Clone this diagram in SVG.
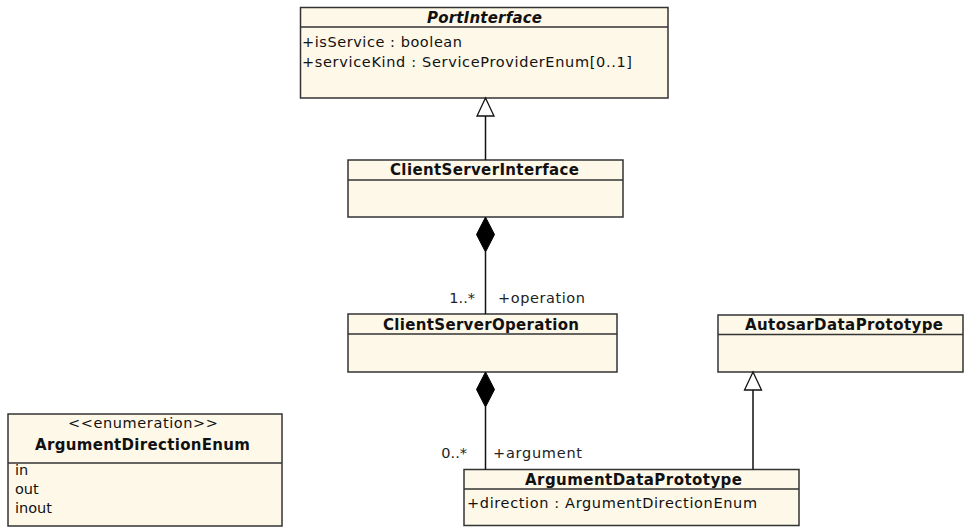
<svg xmlns="http://www.w3.org/2000/svg" width="964" height="528" viewBox="0 0 964 528">
  <style>
    .box { fill: #fef8e9; stroke: #333333; stroke-width: 1.5; }
    .sep { stroke: #333333; stroke-width: 1.5; }
    .name { font-family: "DejaVu Sans", sans-serif; font-size: 15px; font-weight: bold; fill: #111111; text-anchor: middle; }
    .abstract { font-style: italic; }
    .attr { font-family: "DejaVu Sans", sans-serif; font-size: 14.5px; fill: #111111; }
    .stereo { font-family: "DejaVu Sans", sans-serif; font-size: 14.5px; fill: #111111; text-anchor: middle; }
    .edge { stroke: #111111; stroke-width: 1.5; fill: none; }
    .hollow { fill: #ffffff; stroke: #111111; stroke-width: 1.3; }
    .filled { fill: #000000; stroke: #000000; stroke-width: 1; }
    .role { font-family: "DejaVu Sans", sans-serif; font-size: 14.5px; fill: #222222; }
  </style>

  <!-- classes -->
  <g id="PortInterface">
    <rect class="box" x="300.5" y="7.5" width="367.5" height="90.5"/>
    <line class="sep" x1="300.5" y1="27" x2="668" y2="27"/>
    <text class="name abstract" x="484.5" y="22.5" textLength="115">PortInterface</text>
    <text class="attr" x="302" y="47" textLength="160">+isService : boolean</text>
    <text class="attr" x="302" y="67" textLength="330">+serviceKind : ServiceProviderEnum[0..1]</text>
  </g>

  <g id="ClientServerInterface">
    <rect class="box" x="348" y="160" width="275" height="57"/>
    <line class="sep" x1="348" y1="180" x2="623" y2="180"/>
    <text class="name" x="484.5" y="175" textLength="189">ClientServerInterface</text>
  </g>

  <g id="ClientServerOperation">
    <rect class="box" x="348" y="314" width="269" height="58"/>
    <line class="sep" x1="348" y1="334" x2="617" y2="334"/>
    <text class="name" x="481" y="329.5" textLength="196">ClientServerOperation</text>
  </g>

  <g id="AutosarDataPrototype">
    <rect class="box" x="718" y="315" width="245" height="57"/>
    <line class="sep" x1="718" y1="334.5" x2="963" y2="334.5"/>
    <text class="name" x="844" y="330" textLength="198">AutosarDataPrototype</text>
  </g>

  <g id="ArgumentDataPrototype">
    <rect class="box" x="464" y="469.5" width="335" height="56"/>
    <line class="sep" x1="464" y1="489" x2="799" y2="489"/>
    <text class="name" x="633.5" y="484.5" textLength="217">ArgumentDataPrototype</text>
    <text class="attr" x="467" y="508" textLength="290">+direction : ArgumentDirectionEnum</text>
  </g>

  <g id="ArgumentDirectionEnum">
    <rect class="box" x="8" y="414" width="274" height="112"/>
    <line class="sep" x1="8" y1="463" x2="282" y2="463"/>
    <text class="stereo" x="143" y="428" textLength="150">&lt;&lt;enumeration&gt;&gt;</text>
    <text class="name" x="142.5" y="450" textLength="215">ArgumentDirectionEnum</text>
    <text class="attr" x="15" y="475">in</text>
    <text class="attr" x="15" y="494">out</text>
    <text class="attr" x="15" y="513">inout</text>
  </g>

  <!-- relations -->
  <g id="connectors">
    <!-- ClientServerInterface generalizes PortInterface -->
    <line class="edge" x1="485.5" y1="160" x2="485.5" y2="116"/>
    <polygon class="hollow" points="485.5,98 477,116 494,116"/>

    <!-- ClientServerInterface owns operations -->
    <polygon class="filled" points="485.5,217 476.5,234.5 485.5,252 494.5,234.5"/>
    <line class="edge" x1="485.5" y1="252" x2="485.5" y2="314"/>
    <text class="role" x="475" y="303" text-anchor="end">1..*</text>
    <text class="role" x="498" y="303" textLength="87">+operation</text>

    <!-- ClientServerOperation owns arguments -->
    <polygon class="filled" points="485.5,372 476.5,389.5 485.5,407 494.5,389.5"/>
    <line class="edge" x1="485.5" y1="407" x2="485.5" y2="469.5"/>
    <text class="role" x="467" y="458" text-anchor="end">0..*</text>
    <text class="role" x="493" y="458" textLength="89">+argument</text>

    <!-- ArgumentDataPrototype generalizes AutosarDataPrototype -->
    <line class="edge" x1="753" y1="469.5" x2="753" y2="390"/>
    <polygon class="hollow" points="753,372 744.5,390 761.5,390"/>
  </g>
</svg>
